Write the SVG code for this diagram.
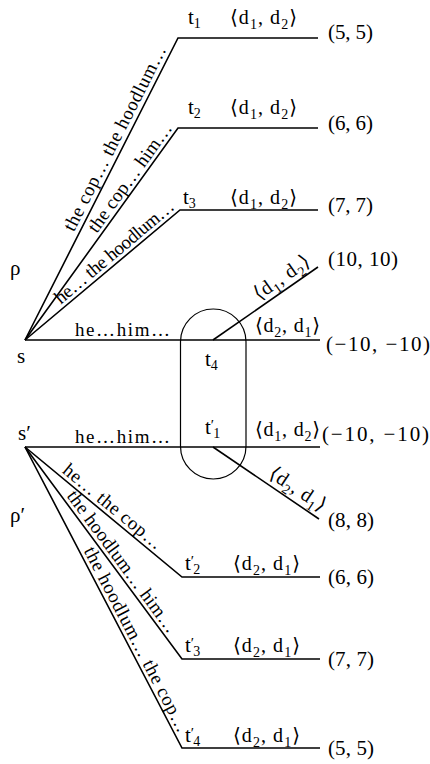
<svg xmlns="http://www.w3.org/2000/svg" width="430" height="764" viewBox="0 0 430 764">
<style>
text{font-family:"Liberation Serif","DejaVu Serif",serif;fill:#000}
.m{font-size:20px}
.t{font-size:21px}
.p{font-size:21px}
.b{font-size:19px}
.sb{font-size:14px}
.pr{font-size:15px}
.ln{stroke:#000;stroke-width:1.6;fill:none}
.pill{stroke:#000;stroke-width:1.2;fill:none}
</style>
<rect width="430" height="764" fill="#fff"/>
<g id="connectors">
  <polyline class="ln" points="25,340 178,38 318,38"/>
  <polyline class="ln" points="25,340 178,128 318,128"/>
  <polyline class="ln" points="25,340 180,210 318,210"/>
  <line class="ln" x1="25" y1="340" x2="320" y2="340"/>
  <line class="ln" x1="213" y1="340" x2="318" y2="267"/>
  <line class="ln" x1="25" y1="447" x2="320" y2="447"/>
  <line class="ln" x1="213" y1="447" x2="319" y2="519"/>
  <polyline class="ln" points="25,447 182,577 320,577"/>
  <polyline class="ln" points="25,447 182,659 320,659"/>
  <polyline class="ln" points="25,447 182,748 320,748"/>
</g>
<g id="edge-labels">
  <text class="b" transform="translate(73.8,232.4) rotate(-63.1)" textLength="205">the cop… the hoodlum…</text>
  <text class="b" transform="translate(96.7,233.9) rotate(-54.2)" textLength="130">the cop… him…</text>
  <text class="b" transform="translate(60.7,304.7) rotate(-40)" textLength="150">he… the hoodlum…</text>
  <text class="b" x="75" y="336" textLength="95">he…him…</text>
  <text class="b" x="75" y="443" textLength="95">he…him…</text>
  <text class="b" transform="translate(61.5,472) rotate(39.6)" textLength="123">he… the cop…</text>
  <text class="b" transform="translate(66.3,496.1) rotate(53.5)" textLength="172">the hoodlum… him…</text>
  <text class="b" transform="translate(83.5,550.8) rotate(62.5)" textLength="206">the hoodlum… the cop…</text>
  <text class="m" transform="translate(258.9,300.8) rotate(-34.8)" textLength="64">⟨d<tspan class="sb" dy="5">1</tspan><tspan dy="-5">, d</tspan><tspan class="sb" dy="5">2</tspan><tspan dy="-5">⟩</tspan></text>
  <text class="m" transform="translate(267.8,476.5) rotate(33.8)" textLength="64">⟨d<tspan class="sb" dy="5">2</tspan><tspan dy="-5">, d</tspan><tspan class="sb" dy="5">1</tspan><tspan dy="-5">⟩</tspan></text>
</g>
<g id="s"><text class="p" x="17" y="363">s</text></g>
<g id="rho"><text class="p" x="10" y="275">ρ</text></g>
<g id="s-prime"><text class="p" x="18" y="440">s′</text></g>
<g id="rho-prime"><text class="p" x="10" y="522">ρ′</text></g>
<g id="pill"><rect class="pill" x="180.5" y="309" width="65.5" height="170" rx="32.75"/></g>
<g id="t1">
  <text class="t" x="188" y="24">t<tspan class="sb" dy="4">1</tspan></text>
  <text class="m" x="230" y="24" textLength="67">⟨d<tspan class="sb" dy="5">1</tspan><tspan dy="-5">, d</tspan><tspan class="sb" dy="5">2</tspan><tspan dy="-5">⟩</tspan></text>
  <text class="p" x="328" y="39" textLength="45">(5, 5)</text>
</g>
<g id="t2">
  <text class="t" x="188" y="114">t<tspan class="sb" dy="4">2</tspan></text>
  <text class="m" x="230" y="114" textLength="67">⟨d<tspan class="sb" dy="5">1</tspan><tspan dy="-5">, d</tspan><tspan class="sb" dy="5">2</tspan><tspan dy="-5">⟩</tspan></text>
  <text class="p" x="328" y="130" textLength="45">(6, 6)</text>
</g>
<g id="t3">
  <text class="t" x="183" y="204">t<tspan class="sb" dy="4">3</tspan></text>
  <text class="m" x="230" y="204" textLength="67">⟨d<tspan class="sb" dy="5">1</tspan><tspan dy="-5">, d</tspan><tspan class="sb" dy="5">2</tspan><tspan dy="-5">⟩</tspan></text>
  <text class="p" x="328" y="212" textLength="45">(7, 7)</text>
</g>
<g id="t4">
  <text class="t" x="205" y="366">t<tspan class="sb" dy="4">4</tspan></text>
  <text class="m" x="255" y="332" textLength="65">⟨d<tspan class="sb" dy="5">2</tspan><tspan dy="-5">, d</tspan><tspan class="sb" dy="5">1</tspan><tspan dy="-5">⟩</tspan></text>
  <text class="p" x="328" y="266" textLength="70">(10, 10)</text>
  <text class="p" x="326" y="351" textLength="104">(−10, −10)</text>
</g>
<g id="t1-prime">
  <text class="t" x="205" y="434">t<tspan class="pr" dy="-4">′</tspan><tspan class="sb" dx="-1" dy="8">1</tspan></text>
  <text class="m" x="255" y="436" textLength="65">⟨d<tspan class="sb" dy="5">1</tspan><tspan dy="-5">, d</tspan><tspan class="sb" dy="5">2</tspan><tspan dy="-5">⟩</tspan></text>
  <text class="p" x="322" y="441" textLength="107">(−10, −10)</text>
  <text class="p" x="328" y="527" textLength="46">(8, 8)</text>
</g>
<g id="t2-prime">
  <text class="t" x="185" y="570">t<tspan class="pr" dy="-4">′</tspan><tspan class="sb" dx="-1" dy="8">2</tspan></text>
  <text class="m" x="233" y="570" textLength="67">⟨d<tspan class="sb" dy="5">2</tspan><tspan dy="-5">, d</tspan><tspan class="sb" dy="5">1</tspan><tspan dy="-5">⟩</tspan></text>
  <text class="p" x="328" y="584" textLength="46">(6, 6)</text>
</g>
<g id="t3-prime">
  <text class="t" x="185" y="652">t<tspan class="pr" dy="-4">′</tspan><tspan class="sb" dx="-1" dy="8">3</tspan></text>
  <text class="m" x="233" y="652" textLength="67">⟨d<tspan class="sb" dy="5">2</tspan><tspan dy="-5">, d</tspan><tspan class="sb" dy="5">1</tspan><tspan dy="-5">⟩</tspan></text>
  <text class="p" x="328" y="666" textLength="46">(7, 7)</text>
</g>
<g id="t4-prime">
  <text class="t" x="185" y="742">t<tspan class="pr" dy="-4">′</tspan><tspan class="sb" dx="-1" dy="8">4</tspan></text>
  <text class="m" x="233" y="742" textLength="67">⟨d<tspan class="sb" dy="5">2</tspan><tspan dy="-5">, d</tspan><tspan class="sb" dy="5">1</tspan><tspan dy="-5">⟩</tspan></text>
  <text class="p" x="328" y="755" textLength="46">(5, 5)</text>
</g>
</svg>
